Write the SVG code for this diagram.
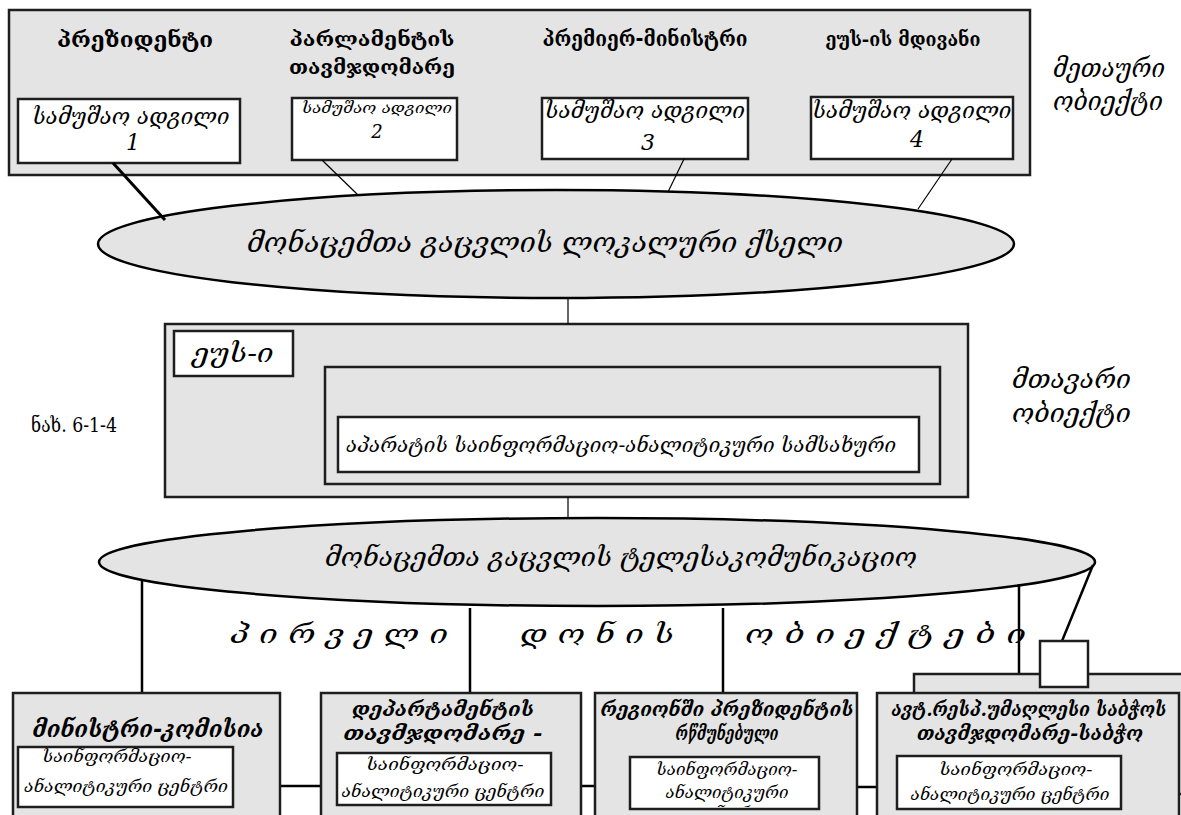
<svg xmlns="http://www.w3.org/2000/svg" width="1181" height="815" viewBox="0 0 1181 815">
<style>
.box{fill:#e4e4e4;stroke:#1e1e1e;stroke-width:2.5}
.wbox{fill:#fff;stroke:#1e1e1e;stroke-width:2.5}
.ell{fill:#e4e4e4;stroke:#000;stroke-width:2.5}
.ln{stroke:#000;fill:none;stroke-width:2.5}
.thin{stroke:#000;fill:none;stroke-width:1.2}
text{font-family:'DejaVu Serif','DejaVu Sans',serif;fill:#000}
.c{text-anchor:middle}
.b{font-weight:bold}
.i{font-style:italic}
</style>
<defs>
<clipPath id="clip3"><rect x="631" y="758" width="187" height="49"/></clipPath>
</defs>
<rect width="1181" height="815" fill="#fff"/>

<g id="top-object">
<rect class="box" x="9" y="10" width="1021" height="165"/>
<text class="c b" x="135" y="47" font-size="22" textLength="156" lengthAdjust="spacingAndGlyphs">პრეზიდენტი</text>
<text class="c b" x="372" y="46" font-size="20" textLength="165" lengthAdjust="spacingAndGlyphs">პარლამენტის</text>
<text class="c b" x="372" y="74" font-size="20" textLength="166" lengthAdjust="spacingAndGlyphs">თავმჯდომარე</text>
<text class="c b" x="645" y="46" font-size="22" textLength="205" lengthAdjust="spacingAndGlyphs">პრემიერ-მინისტრი</text>
<text class="c b" x="903" y="46" font-size="19" textLength="155" lengthAdjust="spacingAndGlyphs">ეუს-ის მდივანი</text>
</g>
<g id="ws1">
<rect class="wbox" x="18" y="99" width="222" height="64"/>
<text class="c i" x="131" y="124" font-size="22" textLength="197" lengthAdjust="spacingAndGlyphs">სამუშაო ადგილი</text>
<text class="c i" x="133" y="150" font-size="22">1</text>
</g>
<g id="ws2">
<rect class="wbox" x="292" y="98" width="165" height="62"/>
<text class="c i" x="377" y="113" font-size="15" textLength="150" lengthAdjust="spacingAndGlyphs">სამუშაო ადგილი</text>
<text class="c i" x="377" y="138" font-size="18">2</text>
</g>
<g id="ws3">
<rect class="wbox" x="542" y="98" width="206" height="61"/>
<text class="c i" x="645" y="118" font-size="22" textLength="200" lengthAdjust="spacingAndGlyphs">სამუშაო ადგილი</text>
<text class="c i" x="648" y="150" font-size="22">3</text>
</g>
<g id="ws4">
<rect class="wbox" x="811" y="97" width="202" height="62"/>
<text class="c i" x="912" y="118" font-size="22" textLength="199" lengthAdjust="spacingAndGlyphs">სამუშაო ადგილი</text>
<text class="c i" x="917" y="147" font-size="22">4</text>
</g>
<g id="label-top">
<text class="i" x="1053" y="77" font-size="26" textLength="112" lengthAdjust="spacingAndGlyphs">მეთაური</text>
<text class="i" x="1053" y="110" font-size="26" textLength="110" lengthAdjust="spacingAndGlyphs">ობიექტი</text>
</g>

<g id="lan">
<ellipse class="ell" cx="556" cy="244" rx="458" ry="54"/>
<text class="c i" x="545" y="252" font-size="28" textLength="596" lengthAdjust="spacingAndGlyphs">მონაცემთა გაცვლის ლოკალური ქსელი</text>
</g>

<g id="main-object">
<rect class="box" x="165" y="324" width="803" height="173"/>
<rect class="wbox" x="174" y="331" width="119" height="45"/>
<text class="c i" x="233" y="362" font-size="26" textLength="81" lengthAdjust="spacingAndGlyphs">ეუს-ი</text>
<rect class="box" x="325" y="367" width="615" height="117"/>
<rect class="wbox" x="338" y="417" width="581" height="55"/>
<text class="c i" x="621" y="452" font-size="20" textLength="550" lengthAdjust="spacingAndGlyphs">აპარატის საინფორმაციო-ანალიტიკური სამსახური</text>
</g>
<g id="caption">
<text x="31" y="432" font-size="21" textLength="86" lengthAdjust="spacingAndGlyphs">ნახ. 6-1-4</text>
</g>
<g id="label-main">
<text class="i" x="1012" y="388" font-size="26" textLength="119" lengthAdjust="spacingAndGlyphs">მთავარი</text>
<text class="i" x="1012" y="422" font-size="26" textLength="119" lengthAdjust="spacingAndGlyphs">ობიექტი</text>
</g>

<g id="telecom">
<ellipse class="ell" cx="597" cy="562" rx="498" ry="44"/>
<text class="c i" x="621" y="566" font-size="26" textLength="592" lengthAdjust="spacingAndGlyphs">მონაცემთა გაცვლის ტელესაკომუნიკაციო</text>
</g>

<g id="level-label">
<text class="i" x="230" y="643" font-size="26" textLength="218" lengthAdjust="spacingAndGlyphs">პ ი რ ვ ე ლ ი</text>
<text class="i" x="520" y="643" font-size="26" textLength="154" lengthAdjust="spacingAndGlyphs">დ ო ნ ი ს</text>
<text class="i" x="745" y="643" font-size="26" textLength="281" lengthAdjust="spacingAndGlyphs">ო ბ ი ე ქ ტ ე ბ ი</text>
</g>

<g id="connectors">
<line x1="113" y1="163" x2="165" y2="220" stroke="#000" stroke-width="3"/>
<line class="thin" x1="322" y1="160" x2="358" y2="195"/>
<line class="thin" x1="684" y1="159" x2="668" y2="192"/>
<line class="thin" x1="952" y1="159" x2="918" y2="209"/>
<line class="thin" x1="568" y1="298" x2="568" y2="324"/>
<line class="thin" x1="568" y1="497" x2="568" y2="518"/>
<line class="ln" x1="142" y1="580" x2="142" y2="693"/>
<line class="ln" x1="470" y1="608" x2="470" y2="693"/>
<line class="ln" x1="723" y1="608" x2="723" y2="693"/>
<line class="ln" x1="1019" y1="584" x2="1019" y2="674"/>
<line class="ln" x1="1093" y1="565" x2="1062" y2="641"/>
<line class="ln" x1="280" y1="786" x2="321" y2="786"/>
<line class="ln" x1="581" y1="786" x2="595" y2="786"/>
<line class="ln" x1="857" y1="787" x2="877" y2="787"/>
</g>

<g id="minister">
<rect class="box" x="13" y="693" width="267" height="140"/>
<text class="c i b" x="148" y="737" font-size="24" textLength="231" lengthAdjust="spacingAndGlyphs">მინისტრი-კომისია</text>
<rect class="wbox" x="18" y="747" width="215" height="60"/>
<text class="c i" x="117" y="762" font-size="17" textLength="149" lengthAdjust="spacingAndGlyphs">საინფორმაციო-</text>
<text class="c i" x="126" y="792" font-size="17" textLength="204" lengthAdjust="spacingAndGlyphs">ანალიტიკური ცენტრი</text>
</g>
<g id="department">
<rect class="box" x="321" y="693" width="260" height="140"/>
<text class="c i b" x="443" y="716" font-size="20" textLength="182" lengthAdjust="spacingAndGlyphs">დეპარტამენტის</text>
<text class="c i b" x="443" y="740" font-size="20" textLength="199" lengthAdjust="spacingAndGlyphs">თავმჯდომარე -</text>
<rect class="wbox" x="337" y="753" width="214" height="52"/>
<text class="c i" x="445" y="770" font-size="17" textLength="157" lengthAdjust="spacingAndGlyphs">საინფორმაციო-</text>
<text class="c i" x="443" y="797" font-size="17" textLength="203" lengthAdjust="spacingAndGlyphs">ანალიტიკური ცენტრი</text>
</g>
<g id="region">
<rect class="box" x="595" y="693" width="262" height="140"/>
<text class="c i b" x="727" y="716" font-size="19" textLength="253" lengthAdjust="spacingAndGlyphs">რეგიონში პრეზიდენტის</text>
<text class="c i b" x="727" y="740" font-size="19" textLength="103" lengthAdjust="spacingAndGlyphs">რწმუნებული</text>
<rect class="wbox" x="630" y="757" width="189" height="52"/>
<text class="c i" x="727" y="775" font-size="17" textLength="141" lengthAdjust="spacingAndGlyphs">საინფორმაციო-</text>
<text class="c i" x="727" y="798" font-size="17" textLength="123" lengthAdjust="spacingAndGlyphs">ანალიტიკური</text>
<text class="c i" x="727" y="819" font-size="17" clip-path="url(#clip3)">ცენტრი</text>
</g>
<g id="autonomy">
<rect class="box" x="914" y="674" width="290" height="120"/>
<rect class="box" x="877" y="693" width="302" height="140"/>
<rect class="wbox" x="1040" y="641" width="48" height="46"/>
<text class="c i b" x="1029" y="716" font-size="19" textLength="275" lengthAdjust="spacingAndGlyphs">ავტ.რესპ.უმაღლესი საბჭოს</text>
<text class="c i b" x="1030" y="740" font-size="19" textLength="226" lengthAdjust="spacingAndGlyphs">თავმჯდომარე-საბჭო</text>
<rect class="wbox" x="897" y="756" width="224" height="53"/>
<text class="c i" x="1016" y="775" font-size="17" textLength="153" lengthAdjust="spacingAndGlyphs">საინფორმაციო-</text>
<text class="c i" x="1010" y="800" font-size="17" textLength="199" lengthAdjust="spacingAndGlyphs">ანალიტიკური ცენტრი</text>
</g>
</svg>
